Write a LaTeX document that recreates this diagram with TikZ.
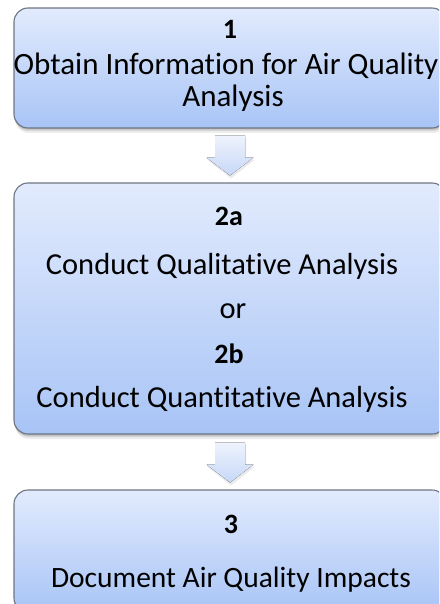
\documentclass[tikz,border=0pt]{standalone}
\usepackage{fontspec}
\setmainfont[RawFeature=-liga]{Carlito}
\usetikzlibrary{calc}
\definecolor{boxtop}{HTML}{E2EBFD}
\definecolor{boxbot}{HTML}{A8C4F6}
\definecolor{boxline}{HTML}{6E7684}
\definecolor{arrtop}{HTML}{EEF3FD}
\definecolor{arrbot}{HTML}{C6D8F7}
\tikzset{
  stepbox/.style={rectangle, rounded corners=14pt, draw=boxline, line width=1.1pt,
    top color=boxtop, bottom color=boxbot, minimum width=432pt, inner sep=0pt,
    preaction={fill=black, opacity=0.07, transform canvas={xshift=1pt,yshift=-5pt}},
    preaction={fill=black, opacity=0.10, transform canvas={xshift=0.5pt,yshift=-3pt}},
    preaction={fill=black, opacity=0.12, transform canvas={yshift=-1.5pt}}},
  bigtxt/.style={font=\fontsize{31}{37}\selectfont, anchor=base, inner sep=0pt},
  midtxt/.style={font=\fontsize{30.5}{36}\selectfont, anchor=base, inner sep=0pt},
  smalltxt/.style={font=\fontsize{29.5}{35}\selectfont, anchor=base, inner sep=0pt},
  numtxt/.style={font=\fontsize{28}{33}\selectfont\bfseries, anchor=base, inner sep=0pt},
  flowarrow/.style={top color=arrtop, bottom color=arrbot},
  arrshadow/.style={fill=black, opacity=0.08}
}
\begin{document}
\begin{tikzpicture}[x=1pt,y=-1pt]
\useasboundingbox (0,0) rectangle (439,604);
\clip (0,0) rectangle (439,604);
\fill[white] (0,0) rectangle (439,604);
% boxes
\node[stepbox, minimum height=120pt] (b1) at (230,68) {};
\node[stepbox, minimum height=251pt] (b2) at (230,308.5) {};
\node[stepbox, minimum height=122pt] (b3) at (230,551) {};
% texts box 1
\node[numtxt] (n1) at (230,39) {1};
\node[bigtxt] (t1a) at (226,75) {Obtain Information for Air Quality};
\node[bigtxt] (t1b) at (233,107) {Analysis};
% texts box 2
\node[numtxt] (n2a) at (229,225) {2a};
\node[midtxt] (t2a) at (222,274) {Conduct Qualitative Analysis};
\node[midtxt] (t2or) at (233,318) {or};
\node[numtxt] (n2b) at (229,363) {2b};
\node[midtxt] (t2b) at (222,407) {Conduct Quantitative Analysis};
% texts box 3
\node[numtxt] (n3) at (231,533) {3};
\node[smalltxt] (t3) at (231,587) {Document Air Quality Impacts};
% arrows
\path (b1.south) ++(0,7) coordinate (a1);
\path (b2.south) ++(0,8) coordinate (a2);
\foreach \c in {a1,a2}{
  \fill[arrshadow] (\c) ++(-14,2) -- ++(30,0) -- ++(0,22) -- ++(9,0) -- ++(-24,19) -- ++(-24,-19) -- ++(9,0) -- cycle;
  \fill[flowarrow] (\c) ++(-15,0) -- ++(30,0) -- ++(0,22) -- ++(8.5,0) -- ++(-23.5,18) -- ++(-23.5,-18) -- ++(8.5,0) -- cycle;
}
\end{tikzpicture}
\end{document}
